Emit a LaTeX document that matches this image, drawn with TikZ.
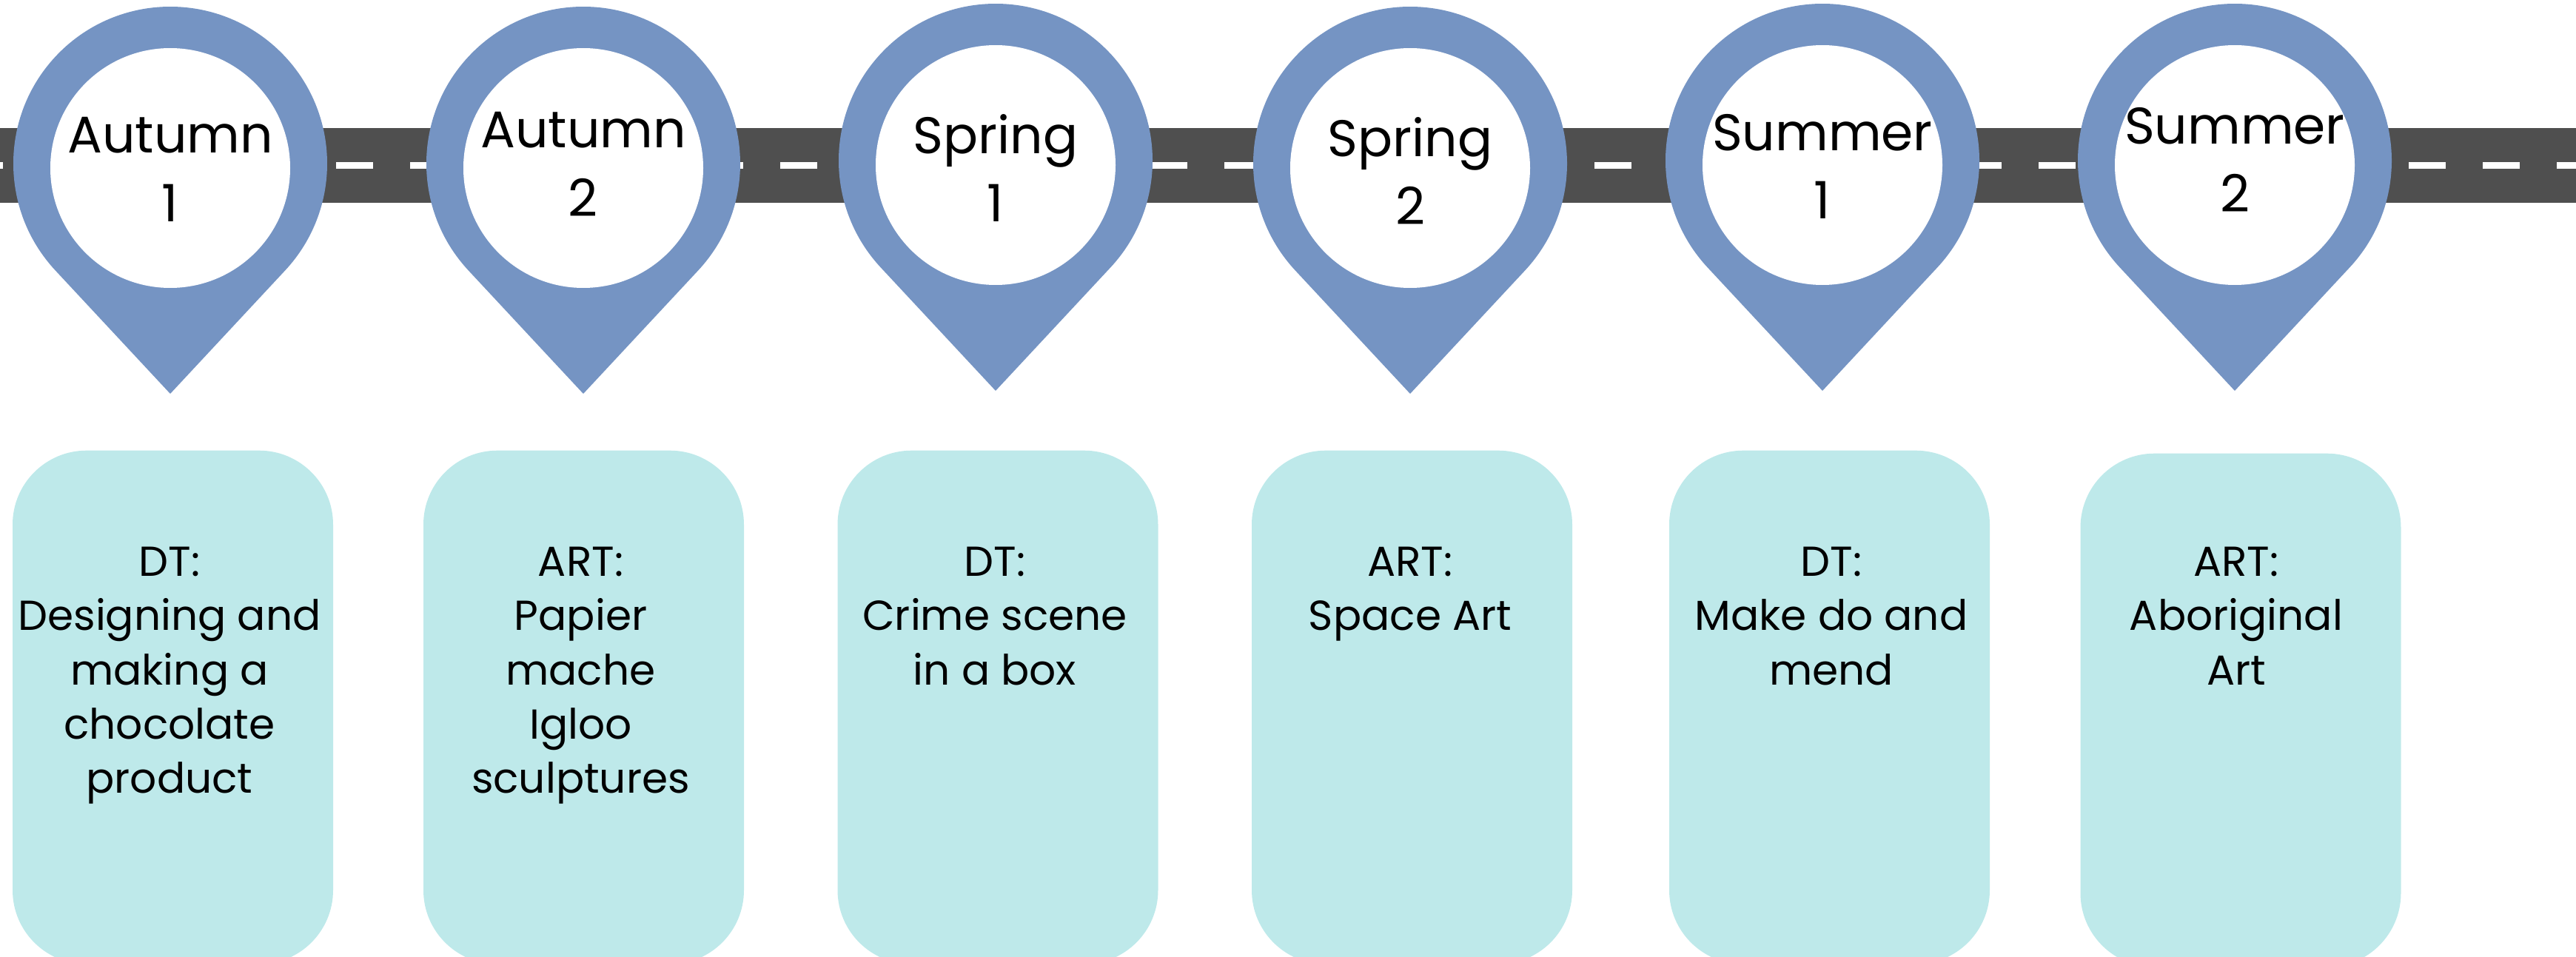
\documentclass[tikz,border=0pt]{standalone}
\usepackage{fontspec}
\setmainfont{Poppins}
\usetikzlibrary{calc}
\definecolor{roadgray}{HTML}{4F4F4F}
\definecolor{pinblue}{HTML}{7594C3}
\definecolor{boxcyan}{HTML}{BEE9EA}

\begin{document}
\begin{tikzpicture}[
        pinlabel/.style={align=center, inner sep=0pt, anchor=north, font=\fontsize{19.8}{26.2}\selectfont},
        topicbox/.style={fill=boxcyan, rounded corners=1cm, minimum width=4.33cm, minimum height=6.94cm, anchor=north, inner sep=0pt},
        topictext/.style={align=center, inner sep=0pt, anchor=north, font=\fontsize{16.1}{20.9}\selectfont}
    ]
        \useasboundingbox (0,0) rectangle (34.8,12.92);
        \clip (0,0) rectangle (34.8,12.92);

        % Carretera
        \fill[roadgray] (0,10.18) rectangle (34.8,11.19);
        \draw[white, line width=0.095cm, dash pattern=on 0.5cm off 0.5cm, dash phase=0.46cm] (0,10.685) -- (34.8,10.685);

        % Marcadores de cada trimestre
        \foreach \n/\x/\y/\t/\s/\k in {1/2.30/10.71/0.63/Autumn/1, 2/7.88/10.71/0.70/Autumn/2, 3/13.45/10.75/0.63/Spring/1,
                                       4/19.05/10.71/0.63/Spring/2, 5/24.62/10.75/0.63/Summer/1, 6/30.19/10.75/0.72/Summer/2} {
            \coordinate (pin\n) at (\x,\y);
            \fill[pinblue] ($(pin\n)+(-43:2.12)$) arc[start angle=-43, end angle=223, radius=2.12]
                -- ($(pin\n)+(0,-3.11)$) -- cycle;
            \fill[white] ($(pin\n)+(0,-0.06)$) circle (1.62);
            \node[pinlabel] (label\n) at ($(pin\n)+(0,\t)$) {\s\\\k};
        }

        % Cajas de contenidos
        \foreach \n/\x/\y in {1/2.335/6.84, 2/7.885/6.84, 3/13.48/6.84, 4/19.075/6.84, 5/24.715/6.84, 6/30.27/6.80}
            \node[topicbox] (box\n) at (\x,\y) {};

        \node[topictext] (topic1) at (2.29,5.54) {DT:\\Designing and\\making a\\chocolate\\product};
        \node[topictext] (topic2) at (7.845,5.54) {ART:\\Papier\\mache\\Igloo\\sculptures};
        \node[topictext] (topic3) at (13.44,5.54) {DT:\\Crime scene\\in a box};
        \node[topictext] (topic4) at (19.05,5.54) {ART:\\Space Art};
        \node[topictext] (topic5) at (24.74,5.54) {DT:\\Make do and\\mend};
        \node[topictext] (topic6) at (30.21,5.54) {ART:\\Aboriginal\\Art};
    \end{tikzpicture}
\end{document}
